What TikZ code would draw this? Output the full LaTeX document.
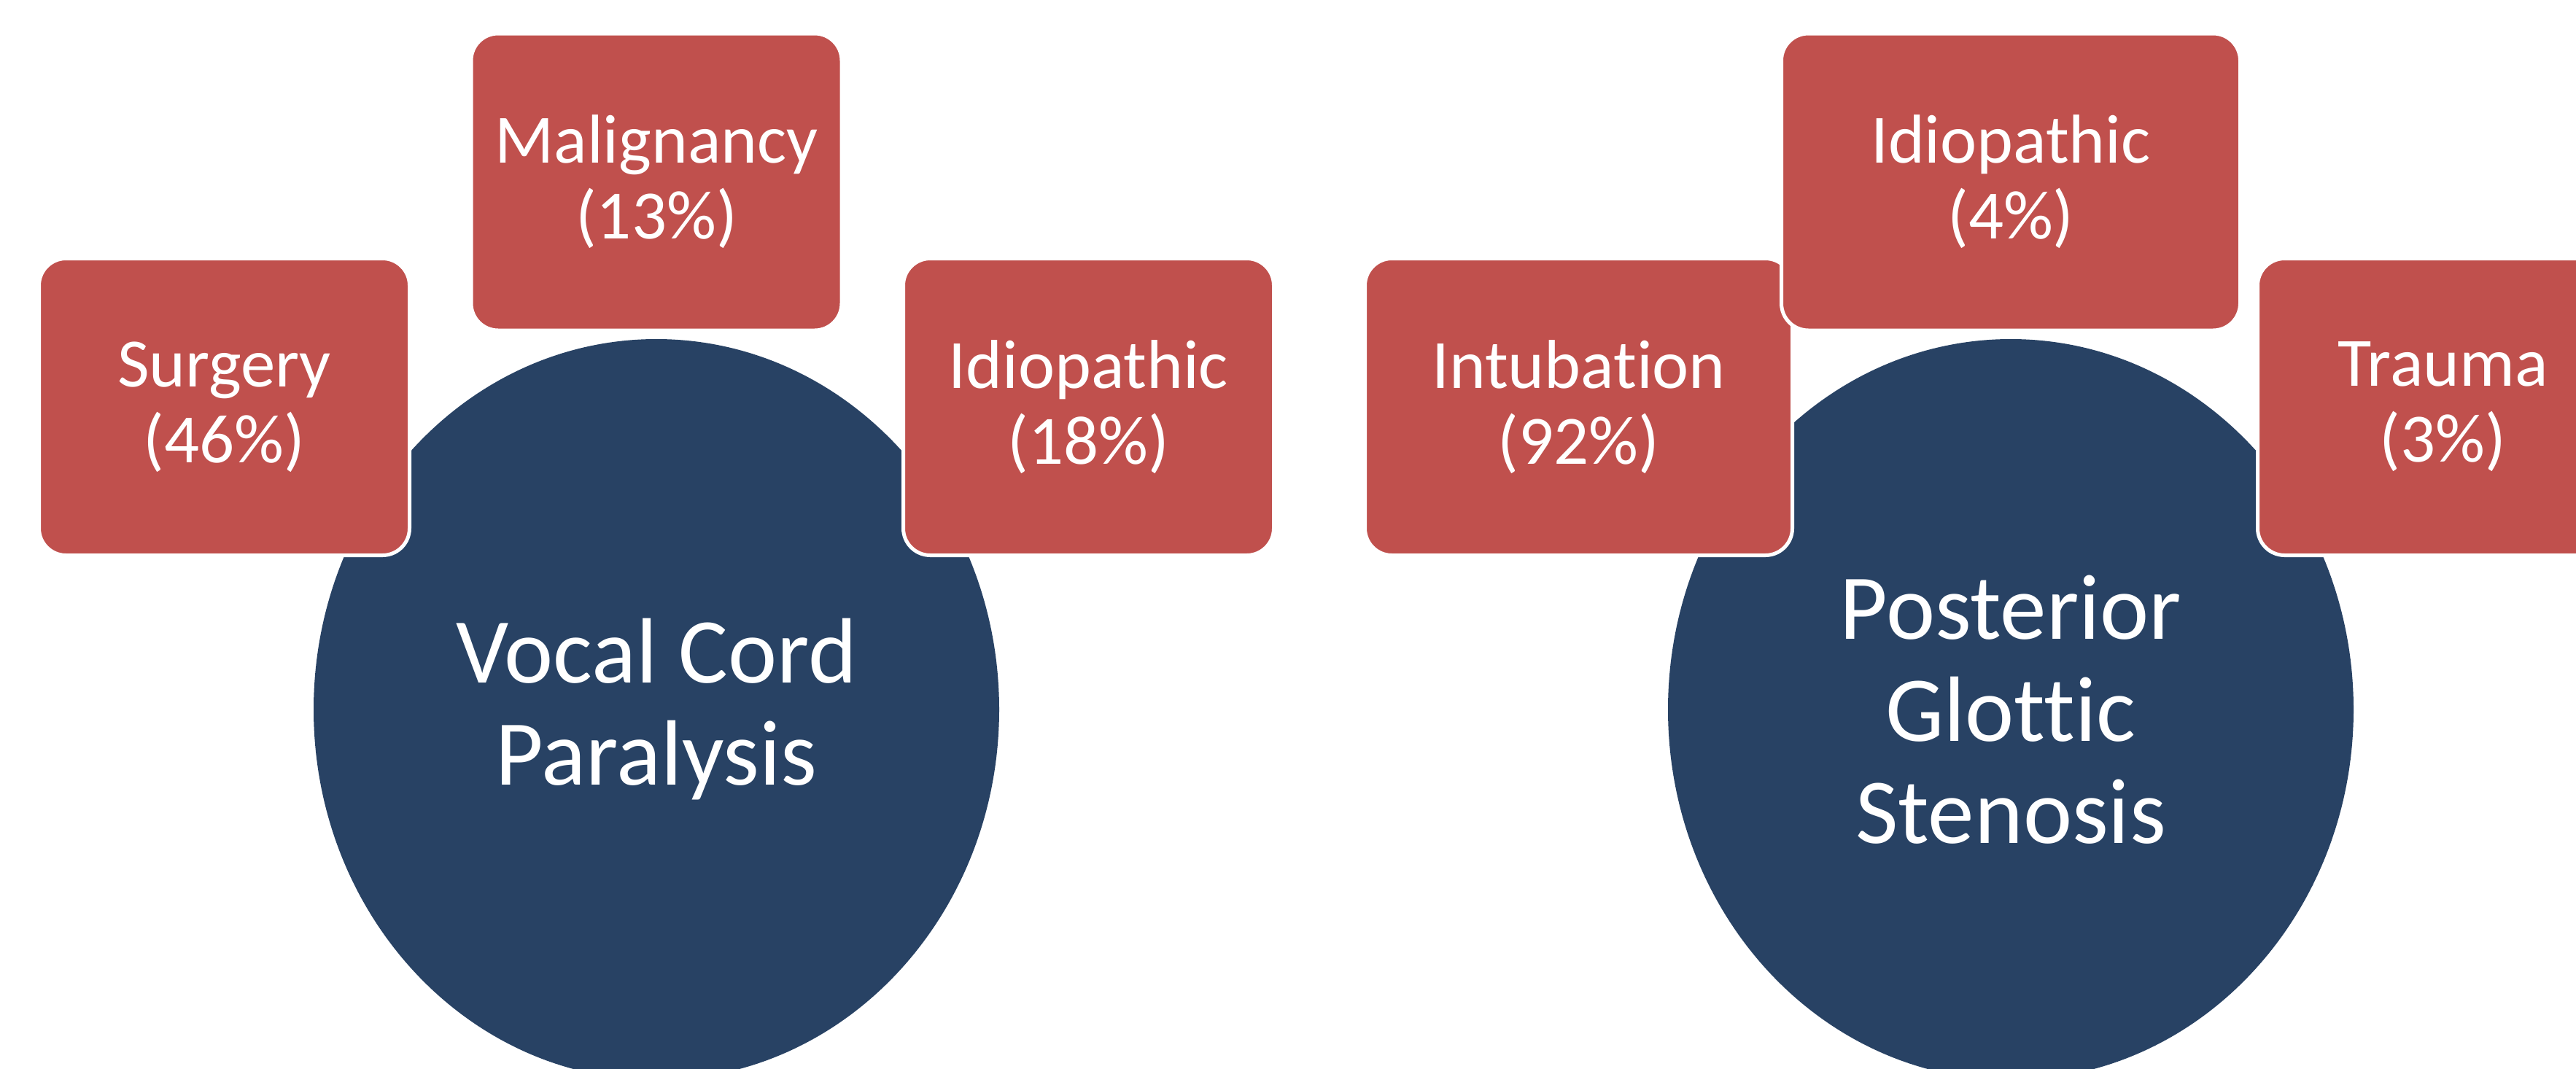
\documentclass[tikz,border=0pt]{standalone}
\usepackage{fontspec}
\setmainfont{Carlito}[Ligatures={NoCommon,NoContextual}]
\usetikzlibrary{shapes.geometric}
\definecolor{causered}{HTML}{C0504D}
\definecolor{disorderblue}{HTML}{284264}
\tikzset{cause/.style={draw=white, line width=0.05cm, fill=causered, rounded corners=0.37cm, minimum width=5.08cm, minimum height=4.07cm, inner sep=0pt, text=white, align=center, font=\fontsize{27}{29.6}\selectfont}}
\tikzset{disorder/.style={ellipse, fill=disorderblue, minimum width=9.4cm, minimum height=10.16cm, inner sep=0pt, text=white, align=center, font=\fontsize{36.2}{39.8}\selectfont}}
\begin{document}
\begin{tikzpicture}[y=-1cm]
\useasboundingbox (0,0) rectangle (35.32,14.66);
% vocal cord paralysis
\node[disorder] (vcp) at (9,9.73) {Vocal Cord\\Paralysis};
\node[cause] (surgery) at (3.075,5.58) {Surgery\\(46\%)};
\node[cause] (malignancy) at (9,2.495) {Malignancy\\(13\%)};
\node[cause] (idioL) at (14.925,5.58) {Idiopathic\\(18\%)};
% posterior glottic stenosis
\node[disorder] (pgs) at (27.57,9.73) {Posterior\\Glottic\\Stenosis};
\node[cause, minimum width=5.86cm] (intubation) at (21.645,5.58) {Intubation\\(92\%)};
\node[cause, minimum width=6.29cm] (idioR) at (27.57,2.495) {Idiopathic\\(4\%)};
\node[cause] (trauma) at (33.495,5.58) {Trauma\\(3\%)};
\end{tikzpicture}
\end{document}
